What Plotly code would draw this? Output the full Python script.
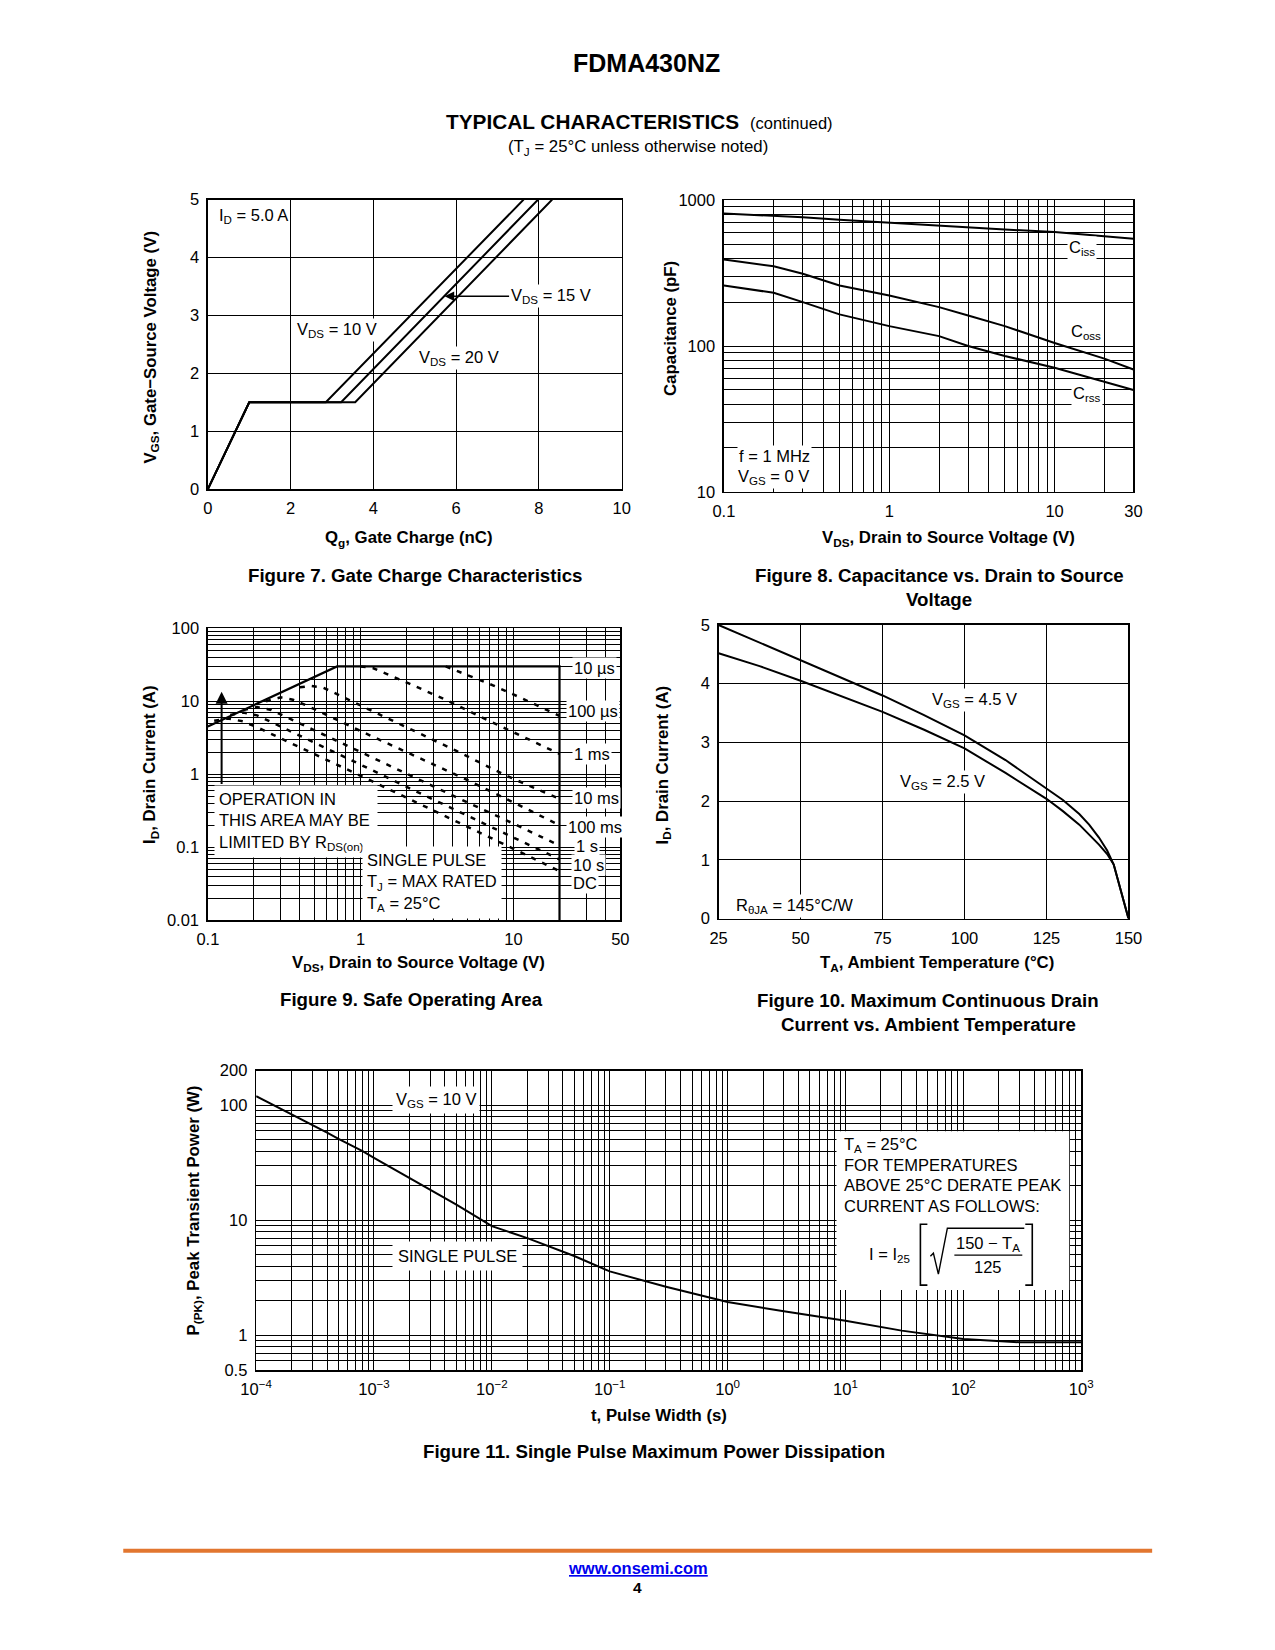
import numpy as np
import plotly.graph_objects as go

# page is 1275x1650; the browser body keeps its default 8px margin,
# so the figure is 16px smaller and every pixel position is shifted by 8
PAGE_W, PAGE_H, OFF = 1275, 1650, 8
W, H = PAGE_W - 2 * OFF, PAGE_H - 2 * OFF
FONT = "Liberation Sans, Arial, Helvetica, sans-serif"
# empirical correction of the photographed placement
SX, BX = 1.0233, -16.18
SY, BY = 1.0098, -9.37

# ---------------- DATA ----------------
# Figure 7: gate charge
qg_vds10 = [0, 1.0, 2.85, 7.63]
vgs_vds10 = [0, 1.5, 1.5, 5.0]
qg_vds15 = [0, 1.0, 3.22, 7.98]
vgs_vds15 = [0, 1.5, 1.5, 5.0]
qg_vds20 = [0, 1.0, 3.56, 8.32]
vgs_vds20 = [0, 1.5, 1.5, 5.0]

# Figure 8: capacitance
vds_cap = [0.1, 0.2, 0.3, 0.5, 1, 2, 3, 5, 10, 20, 30]
ciss = [810, 785, 765, 735, 700, 670, 650, 630, 605, 570, 545]
coss = [392, 353, 313, 260, 222, 185, 162, 137, 105, 82, 69]
crss = [260, 232, 200, 165, 137, 117, 100, 85.5, 71, 57, 50]

# Figure 9: safe operating area
soa_lim_v = [0.1, 0.7, 20, 20]
soa_lim_i = [4.5, 30, 30, 0.01]
soa_100us_v = [3.6, 5.0, 7.4, 11, 20]
soa_100us_i = [30, 23, 16.4, 11.3, 6.3]
soa_1ms_v = [1.0, 1.2, 2.1, 3.7, 6.2, 11, 20]
soa_1ms_i = [30, 28.5, 17.3, 10.2, 6.0, 3.4, 1.9]
soa_10ms_v = [0.40, 0.47, 0.56, 0.66, 1.18, 2.1, 4.2, 9.0, 20]
soa_10ms_i = [15.5, 16.2, 15.5, 13.3, 7.4, 4.2, 2.1, 0.95, 0.46]
soa_100ms_v = [0.24, 0.30, 0.36, 0.45, 1.0, 2.0, 5.0, 10, 20]
soa_100ms_i = [10.0, 11.3, 10.5, 8.6, 3.9, 2.0, 0.83, 0.41, 0.20]
soa_1s_v = [0.17, 0.21, 0.26, 0.33, 1.0, 2.0, 5.0, 10, 20]
soa_1s_i = [7.6, 8.3, 7.6, 6.0, 2.0, 1.0, 0.41, 0.21, 0.105]
soa_10s_v = [0.14, 0.17, 0.21, 0.27, 1.0, 2.0, 5.0, 10, 20]
soa_10s_i = [6.5, 7.0, 6.4, 5.0, 1.35, 0.67, 0.27, 0.135, 0.068]
soa_dc_v = [0.11, 0.135, 0.17, 0.22, 1.0, 2.0, 5.0, 10, 20]
soa_dc_i = [5.4, 5.8, 5.3, 4.2, 0.95, 0.47, 0.19, 0.095, 0.047]

# Figure 10: max continuous drain current vs ambient temperature
ta = [25, 37.5, 50, 62.5, 75, 87.5, 100, 112.5, 125, 130, 135, 138, 141, 143.5, 145.5, 150]
id_vgs45 = [5.0, 4.7, 4.4, 4.1, 3.8, 3.47, 3.12, 2.7, 2.22, 2.02, 1.78, 1.60, 1.38, 1.16, 0.92, 0]
id_vgs25 = [4.52, 4.3, 4.05, 3.78, 3.52, 3.22, 2.9, 2.48, 2.04, 1.83, 1.60, 1.43, 1.26, 1.10, 0.92, 0]

# Figure 11: single pulse max power
t_pulse = [1e-4, 2e-4, 4e-4, 5e-4, 8e-4, 1e-3, 2e-3, 5e-3, 1e-2, 2e-2, 5e-2, 1e-1, 3e-1,
           1, 3, 10, 30, 100, 300, 1000]
p_pk = [120, 84, 58, 51, 40, 35, 23.3, 13.7, 8.9, 7.0, 4.9, 3.6, 2.65,
        1.95, 1.62, 1.34, 1.1, 0.93, 0.87, 0.87]

# tick labels
f11_xtick_vals = [1e-4, 1e-3, 1e-2, 1e-1, 1e0, 1e1, 1e2, 1e3]
f11_xtick_text = ["10<sup>−4</sup>", "10<sup>−3</sup>", "10<sup>−2</sup>", "10<sup>−1</sup>",
                  "10<sup>0</sup>", "10<sup>1</sup>", "10<sup>2</sup>", "10<sup>3</sup>"]


# ---------------- helpers ----------------
def px(x):
    return (SX * x + BX - OFF) / W


def py(y):
    return 1 - (SY * y + BY - OFF) / H


def dx(l, r):
    return [px(l), px(r)]


def dy(t, b):
    return [py(b), py(t)]


def log_grid(lo, hi):
    vals = []
    for e in range(int(np.floor(np.log10(lo))) - 1, int(np.ceil(np.log10(hi))) + 1):
        for m in range(1, 10):
            v = m * 10.0 ** e
            if lo * (1 - 1e-9) <= v <= hi * (1 + 1e-9):
                vals.append(v)
    return vals


TICKFONT = dict(family=FONT, size=16.5, color="black")


def axis(**kw):
    d = dict(showline=True, linecolor="black", linewidth=1.5, mirror=True,
             showgrid=True, gridcolor="black", gridwidth=1, zeroline=False,
             ticks="", tickfont=TICKFONT, fixedrange=True, ticklabelstandoff=4)
    d.update(kw)
    return d


def logaxis(lo, hi, tickvals, ticktext, **kw):
    d = axis(type="log", range=[np.log10(lo), np.log10(hi)], tickvals=tickvals, ticktext=ticktext,
             minor=dict(tickvals=log_grid(lo, hi), showgrid=True, gridcolor="black",
                        gridwidth=1, ticks=""))
    d.update(kw)
    return d


fig = go.Figure()


def line(x, y, ax, dash=None, width=2):
    fig.add_trace(go.Scatter(x=x, y=y, mode="lines", xaxis=ax[0], yaxis=ax[1],
                             line=dict(color="black", width=width, dash=dash),
                             showlegend=False, hoverinfo="skip"))


# Fig 7
line(qg_vds10, vgs_vds10, ("x", "y"))
line(qg_vds15, vgs_vds15, ("x", "y"))
line(qg_vds20, vgs_vds20, ("x", "y"))
# Fig 8
line(vds_cap, ciss, ("x2", "y2"))
line(vds_cap, coss, ("x2", "y2"))
line(vds_cap, crss, ("x2", "y2"))
# Fig 9
line(soa_lim_v, soa_lim_i, ("x3", "y3"), width=2.2)
DASH = "5px,7px"
for vv, ii in [(soa_100us_v, soa_100us_i), (soa_1ms_v, soa_1ms_i), (soa_10ms_v, soa_10ms_i),
               (soa_100ms_v, soa_100ms_i), (soa_1s_v, soa_1s_i), (soa_10s_v, soa_10s_i),
               (soa_dc_v, soa_dc_i)]:
    line(vv, ii, ("x3", "y3"), dash=DASH, width=2.5)
# Fig 10
line(ta, id_vgs45, ("x4", "y4"))
line(ta, id_vgs25, ("x4", "y4"))
# Fig 11
line(t_pulse, p_pk, ("x5", "y5"))

layout = dict(
    width=W, height=H, margin=dict(l=0, r=0, t=0, b=0), autosize=False,
    paper_bgcolor="white", plot_bgcolor="white", showlegend=False,
    font=dict(family=FONT, size=16.5, color="black"),
    xaxis=axis(domain=dx(207.7, 622), anchor="y", range=[0, 10], tickvals=[0, 2, 4, 6, 8, 10]),
    yaxis=axis(domain=dy(200, 490), anchor="x", range=[0, 5], tickvals=[0, 1, 2, 3, 4, 5]),
    xaxis2=logaxis(0.1, 30, [0.1, 1, 10, 30], ["0.1", "1", "10", "30"], domain=dx(724.3, 1134.3), anchor="y2"),
    yaxis2=logaxis(10, 1000, [10, 100, 1000], ["10", "100", "1000"], domain=dy(200.7, 492.7), anchor="x2"),
    xaxis3=logaxis(0.1, 50, [0.1, 1, 10, 50], ["0.1", "1", "10", "50"], domain=dx(207.7, 620.6), anchor="y3"),
    yaxis3=logaxis(0.01, 100, [0.01, 0.1, 1, 10, 100], ["0.01", "0.1", "1", "10", "100"],
                   domain=dy(629.3, 921.5), anchor="x3"),
    xaxis4=axis(domain=dx(719, 1129.3), anchor="y4", range=[25, 150], tickvals=[25, 50, 75, 100, 125, 150]),
    yaxis4=axis(domain=dy(626, 920), anchor="x4", range=[0, 5], tickvals=[0, 1, 2, 3, 4, 5]),
    xaxis5=logaxis(1e-4, 1e3, f11_xtick_vals, f11_xtick_text, domain=dx(256, 1082), anchor="y5"),
    yaxis5=logaxis(0.5, 200, [0.5, 1, 10, 100, 200], ["0.5", "1", "10", "100", "200"],
                   domain=dy(1072.3, 1372), anchor="x5"),
)

ann = []
TS = 16.5     # annotation text size
AT = 16.8     # bold axis title size
CAP = 18.7    # caption size


def text(t, x, y, size=TS, bold=False, xa="center", bg=None, angle=0, pad=1, align="left", color="black"):
    if bold:
        t = "<b>" + t + "</b>"
    a = dict(text=t, x=px(x), y=py(y), xref="paper", yref="paper", xanchor=xa, yanchor="middle",
             showarrow=False, font=dict(family=FONT, size=size, color=color), textangle=angle,
             align=align, borderpad=pad)
    if bg:
        a["bgcolor"] = bg
    ann.append(a)


# header
text("FDMA430NZ", 647, 63, size=25, bold=True)
text("TYPICAL CHARACTERISTICS", 741, 122, size=20.8, bold=True, xa="right")
text("(continued)", 748, 123, size=16.5, xa="left")
text("(T<sub>J</sub> = 25°C unless otherwise noted)", 638, 148, size=16.8)

# Fig 7 texts
text("V<sub>GS</sub>, Gate−Source Voltage (V)", 151, 348, size=AT, bold=True, angle=-90)
text("Q<sub>g</sub>, Gate Charge (nC)", 409, 539, size=AT, bold=True)
text("Figure 7. Gate Charge Characteristics", 415, 576, size=CAP, bold=True)
text("I<sub>D</sub> = 5.0 A", 217, 216, xa="left", bg="white")
text("V<sub>DS</sub> = 10 V", 295, 331, xa="left", bg="white")
text("V<sub>DS</sub> = 20 V", 417, 359, xa="left", bg="white")
ann.append(dict(text="V<sub>DS</sub> = 15 V", x=5.72, y=3.33, xref="x", yref="y", ax=106, ay=0,
                showarrow=True, arrowhead=2, arrowsize=1.2, arrowwidth=1.6, arrowcolor="black",
                font=dict(family=FONT, size=TS, color="black"), bgcolor="white", borderpad=1))

# Fig 8 texts
text("Capacitance (pF)", 671, 329, size=AT, bold=True, angle=-90)
text("V<sub>DS</sub>, Drain to Source Voltage (V)", 949, 539, size=AT, bold=True)
text("Figure 8. Capacitance vs. Drain to Source", 940, 576, size=CAP, bold=True)
text("Voltage", 940, 600, size=CAP, bold=True)
text("C<sub>iss</sub>", 1068, 249, xa="left", bg="white")
text("C<sub>oss</sub>", 1070, 333, xa="left", bg="white")
text("C<sub>rss</sub>", 1072, 395, xa="left", bg="white")
text("f = 1 MHz", 737, 457, xa="left", bg="white")
text("V<sub>GS</sub> = 0 V", 736, 478, xa="left", bg="white")

# Fig 9 texts
text("I<sub>D</sub>, Drain Current (A)", 151, 766, size=AT, bold=True, angle=-90)
text("V<sub>DS</sub>, Drain to Source Voltage (V)", 419, 965, size=AT, bold=True)
text("Figure 9. Safe Operating Area", 412, 1001, size=CAP, bold=True)
text("OPERATION IN<br>THIS AREA MAY BE<br>LIMITED BY R<sub>DS(on)</sub>&nbsp;&nbsp;", 214, 823,
     xa="left", bg="white", pad=4)
text("SINGLE PULSE<br>T<sub>J</sub> = MAX RATED<br>T<sub>A</sub> = 25°C", 362, 884, xa="left", bg="white", pad=4)
for lab, xl, yl in [("10 µs", 572, 669), ("100 µs", 566, 712), ("1 ms", 572, 755), ("10 ms", 572, 799),
                    ("100 ms", 566, 828), ("1 s", 574, 847), ("10 s", 571, 866), ("DC", 571, 884)]:
    text(lab, xl, yl, xa="left", bg="white")
ann.append(dict(text="", x=np.log10(0.123), y=np.log10(13.5), xref="x3", yref="y3",
                ax=np.log10(0.123), ay=np.log10(0.7), axref="x3", ayref="y3",
                showarrow=True, arrowhead=2, arrowsize=1.2, arrowwidth=2, arrowcolor="black"))

# Fig 10 texts
text("I<sub>D</sub>, Drain Current (A)", 664, 766, size=AT, bold=True, angle=-90)
text("T<sub>A</sub>, Ambient Temperature (°C)", 938, 965, size=AT, bold=True)
text("Figure 10. Maximum Continuous Drain", 929, 1002, size=CAP, bold=True)
text("Current vs. Ambient Temperature", 929, 1026, size=CAP, bold=True)
text("V<sub>GS</sub> = 4.5 V", 931, 701, xa="left", bg="white")
text("V<sub>GS</sub> = 2.5 V", 899, 783, xa="left", bg="white")
text("R<sub>θJA</sub> = 145°C/W", 734, 907, xa="left", bg="white")

# Fig 11 texts
text("P<sub>(PK)</sub>, Peak Transient Power (W)", 194, 1212, size=AT, bold=True, angle=-90)
text("t, Pulse Width (s)", 659, 1418, size=AT, bold=True)
text("Figure 11. Single Pulse Maximum Power Dissipation", 654, 1454, size=CAP, bold=True)
text("V<sub>GS</sub> = 10 V", 392, 1102, xa="left", bg="white", pad=3)
text("SINGLE PULSE", 458, 1258, bg="white", pad=5)
text("T<sub>A</sub> = 25°C", 843, 1147, xa="left")
text("FOR TEMPERATURES", 843, 1167, xa="left")
text("ABOVE 25°C DERATE PEAK", 843, 1187, xa="left")
text("CURRENT AS FOLLOWS:", 843, 1208, xa="left")
text("I = I<sub>25</sub>", 913, 1257, xa="right")
text("150 − T<sub>A</sub>", 989, 1246)
text("125", 989, 1269)

# Footer
text("<u>www.onsemi.com</u>", 638, 1570, size=16.5, bold=True, color="#0000EE")
text("4", 638, 1590, bold=True, size=15.5)

layout["annotations"] = ann


def path(pts):
    return "M " + " L ".join(f"{px(a):.5f},{py(b):.5f}" for a, b in pts)


shapes = [
    dict(type="rect", xref="paper", yref="paper", x0=px(837), x1=px(1070), y0=py(1292), y1=py(1133),
         fillcolor="white", line=dict(width=0), layer="above"),
    dict(type="path", xref="paper", yref="paper", path=path([(928, 1226), (921, 1226), (921, 1287), (928, 1287)]),
         line=dict(color="black", width=1.6), layer="above"),
    dict(type="path", xref="paper", yref="paper", path=path([(1026, 1226), (1033, 1226), (1033, 1287), (1026, 1287)]),
         line=dict(color="black", width=1.6), layer="above"),
    dict(type="path", xref="paper", yref="paper",
         path=path([(931, 1258), (934, 1255), (939, 1276), (948, 1230), (1025, 1230)]),
         line=dict(color="black", width=1.4), layer="above"),
    dict(type="line", xref="paper", yref="paper", x0=px(955), x1=px(1023), y0=py(1257), y1=py(1257),
         line=dict(color="black", width=1.2), layer="above"),
    dict(type="line", xref="paper", yref="paper", x0=px(123), x1=px(1153), y0=py(1553), y1=py(1553),
         line=dict(color="#E2762F", width=4), layer="above"),
]
layout["shapes"] = shapes

fig.update_layout(**layout)
fig.write_html("out.html", config={"staticPlot": True})
